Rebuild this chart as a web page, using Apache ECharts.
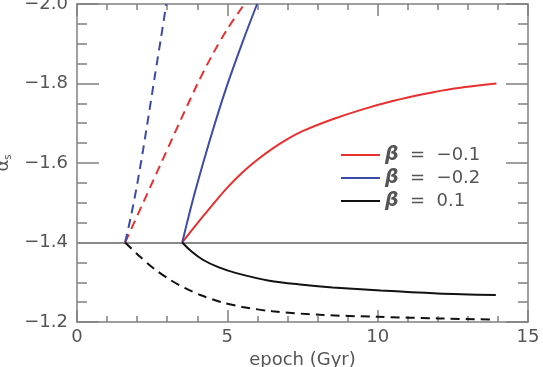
<!DOCTYPE html>
<html>
<head>
<meta charset="utf-8">
<script src="https://cdn.jsdelivr.net/npm/echarts@6.0.0/dist/echarts.min.js"></script>
<style>
html, body { margin: 0; padding: 0; background: #fff; }
#main { width: 543px; height: 367px; }
</style>
</head>
<body>
<div id="main"></div>
<script>
// alpha_s versus epoch, three beta values, two starting epochs
var betaLabels = ['−0.1', '−0.2', '0.1'];
var betaColors = ['#e8302e', '#3c4aa8', '#111111'];

// solid curves (start at 3.5 Gyr)
var epochRed = [3.5, 4.0, 4.5, 5.0, 5.5, 6.0, 6.5, 7.0, 7.5, 8.5, 9.5, 10.5, 11.5, 12.5, 13.95];
var alphaRed = [-1.4, -1.448, -1.494, -1.538, -1.576, -1.608, -1.636, -1.66, -1.68, -1.71, -1.735, -1.756, -1.773, -1.787, -1.80];
var epochBlue = [3.5, 3.75, 4.0, 4.5, 5.0, 5.5, 5.99];
var alphaBlue = [-1.4, -1.477, -1.548, -1.678, -1.797, -1.903, -2.0];
var epochBlack = [3.5, 3.8, 4.2, 4.7, 5.3, 6.4, 7.5, 8.5, 10.1, 12.0, 13.93];
var alphaBlack = [-1.4, -1.378, -1.356, -1.338, -1.323, -1.304, -1.294, -1.287, -1.279, -1.272, -1.268];

// dashed curves (start at 1.6 Gyr)
var epochRedEarly = [1.6, 2.2, 2.8, 3.4, 4.0, 4.5, 5.0, 5.57];
var alphaRedEarly = [-1.4, -1.5, -1.6, -1.7, -1.798, -1.872, -1.937, -2.0];
var epochBlueEarly = [1.6, 1.8, 2.0, 2.2, 2.4, 2.6, 2.8, 2.97];
var alphaBlueEarly = [-1.4, -1.468, -1.546, -1.634, -1.728, -1.824, -1.918, -2.0];
var epochBlackEarly = [1.6, 2.1, 2.6, 3.1, 3.6, 4.1, 4.8, 5.5, 6.5, 8.1, 10.0, 12.0, 13.9];
var alphaBlackEarly = [-1.4, -1.364, -1.332, -1.306, -1.285, -1.268, -1.25, -1.238, -1.227, -1.218, -1.213, -1.209, -1.206];

var refLevel = -1.4;

function pairs(xs, ys) {
    return xs.map(function (x, i) { return [x, ys[i]]; });
}
function fmt(v) {
    return v.toFixed(1).replace('-', '−');
}

var font = 'DejaVu Sans';
var frame = '#808080';

function xAx(pos) {
    return {
        type: 'value', min: 0, max: 15, interval: 5, position: pos,
        axisLine: { onZero: false, lineStyle: { color: frame, width: 1.5 } },
        axisTick: { inside: true, length: 12, lineStyle: { color: frame, width: 1.5 } },
        minorTick: { show: true, splitNumber: 5, length: 6, lineStyle: { color: frame, width: 1.5 } },
        axisLabel: { show: pos === 'bottom', color: '#555', fontSize: 18, fontFamily: font, margin: 6 },
        splitLine: { show: false },
        minorSplitLine: { show: false }
    };
}
function yAx(pos) {
    return {
        type: 'value', min: -2.0, max: -1.2, interval: 0.2, inverse: true, position: pos,
        axisLine: { onZero: false, lineStyle: { color: frame, width: 1.5 } },
        axisTick: { inside: true, length: 22, lineStyle: { color: frame, width: 1.5 } },
        minorTick: { show: true, splitNumber: 4, length: 10, lineStyle: { color: frame, width: 1.5 } },
        axisLabel: { show: pos === 'left', color: '#555', fontSize: 18, fontFamily: font, margin: 9, formatter: fmt },
        splitLine: { show: false },
        minorSplitLine: { show: false }
    };
}

var xBottom = xAx('bottom');
xBottom.name = 'epoch (Gyr)';
xBottom.nameLocation = 'middle';
xBottom.nameGap = 27;
xBottom.nameTextStyle = { color: '#555', fontSize: 18, fontFamily: font };

var yLeft = yAx('left');
yLeft.name = '{a|α}{s|s}';
yLeft.nameLocation = 'middle';
yLeft.nameRotate = 90;
yLeft.nameGap = 62;
yLeft.nameTextStyle = {
    color: '#555', fontFamily: font,
    rich: {
        a: { fontSize: 18, fontFamily: font, color: '#555' },
        s: { fontSize: 10, fontFamily: font, color: '#555', padding: [10, 0, 0, 0] }
    }
};

function curve(name, xs, ys, color, dashed) {
    return {
        name: name,
        type: 'line',
        xAxisIndex: 0,
        yAxisIndex: 0,
        data: pairs(xs, ys),
        smooth: 0.3,
        showSymbol: false,
        color: color,
        lineStyle: { color: color, width: 2, type: dashed ? [9, 6] : 'solid' },
        z: 3
    };
}

var names = betaLabels.map(function (b) { return 'β = ' + b; });

var series = [
    curve('early-red', epochRedEarly, alphaRedEarly, betaColors[0], true),
    curve('early-blue', epochBlueEarly, alphaBlueEarly, betaColors[1], true),
    curve('early-black', epochBlackEarly, alphaBlackEarly, betaColors[2], true),
    curve(names[0], epochRed, alphaRed, betaColors[0], false),
    curve(names[1], epochBlue, alphaBlue, betaColors[1], false),
    curve(names[2], epochBlack, alphaBlack, betaColors[2], false)
];
series[5].markLine = {
    silent: true,
    symbol: 'none',
    label: { show: false },
    lineStyle: { color: '#888', width: 2, type: 'solid' },
    data: [{ yAxis: refLevel }],
    z: 1
};

var myChart = echarts.init(document.getElementById('main'));
myChart.setOption({
    animation: false,
    backgroundColor: '#fff',
    grid: { left: 77, right: 15, top: 4, bottom: 45, containLabel: false, outerBoundsMode: 'none' },
    legend: {
        data: names,
        orient: 'vertical',
        left: 341,
        top: 145,
        padding: 0,
        itemGap: 3,
        itemWidth: 39,
        itemHeight: 2,
        icon: 'rect',
        formatter: function (n) {
            return '{b|β}  =  ' + n.split('= ')[1];
        },
        textStyle: {
            color: '#555', fontSize: 18, fontFamily: font, lineHeight: 20,
            rich: { b: { fontSize: 19, fontWeight: 'bold', fontStyle: 'italic', fontFamily: font, color: '#555' } }
        }
    },
    xAxis: [xBottom, xAx('top')],
    yAxis: [yLeft, yAx('right')],
    series: series
});
</script>
</body>
</html>
